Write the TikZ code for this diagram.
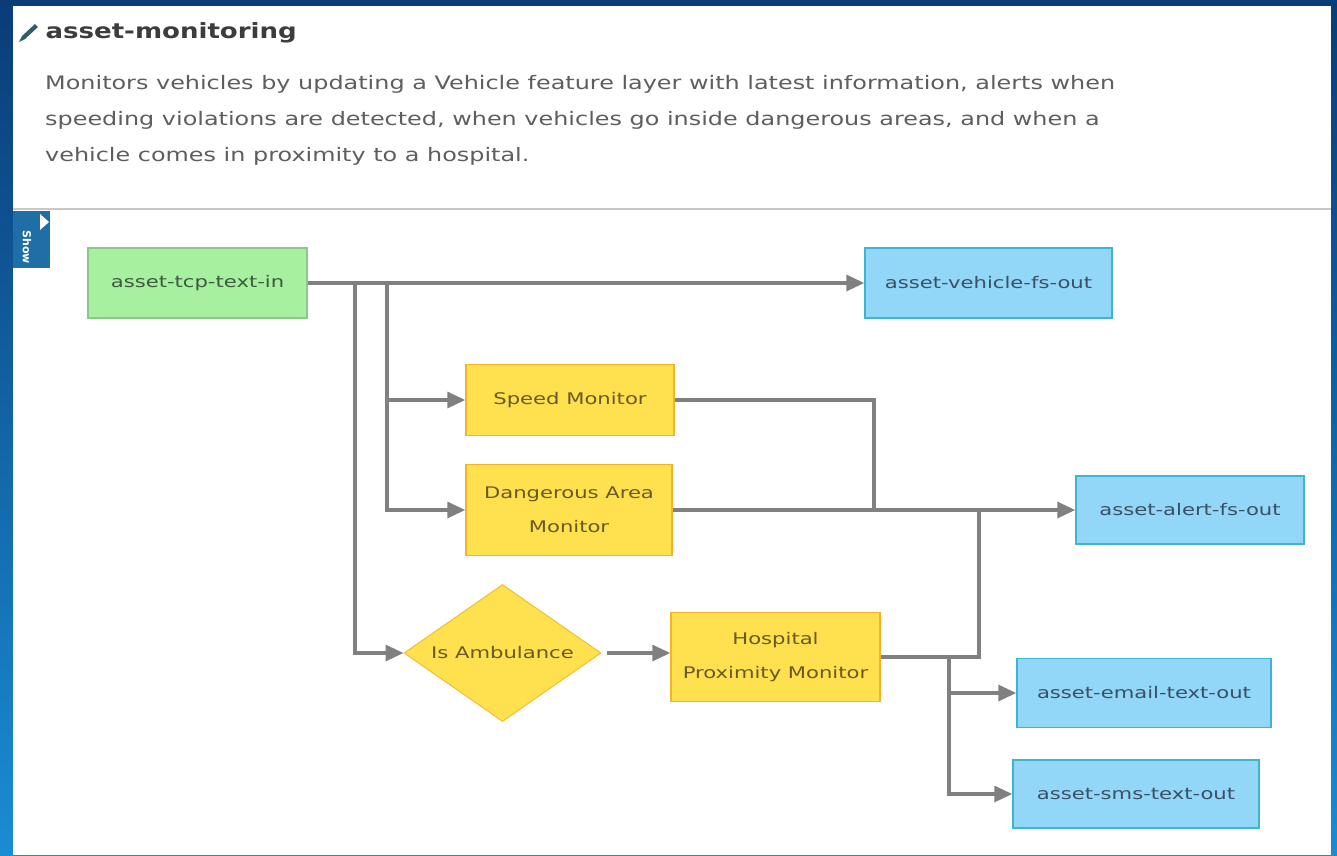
\documentclass[tikz,border=0pt]{standalone}
\usepackage{fontspec}
\setmainfont{DejaVu Sans}
\usetikzlibrary{arrows.meta,shapes.geometric,calc}

\definecolor{bgtop}{HTML}{0A3C78}
\definecolor{bgbot}{HTML}{1A8CD4}
\definecolor{tabblue}{HTML}{1F6EA6}
\definecolor{sepgray}{HTML}{C8C8C8}
\definecolor{titlegray}{HTML}{3C3C3C}
\definecolor{descgray}{HTML}{5E5E5E}
\definecolor{wiregray}{HTML}{808080}
\definecolor{srcfill}{HTML}{A6F0A0}
\definecolor{srcdraw}{HTML}{8CC88A}
\definecolor{srctext}{HTML}{3E5A3E}
\definecolor{outfill}{HTML}{92D6F8}
\definecolor{outdraw}{HTML}{3CB4D2}
\definecolor{outtext}{HTML}{3A5064}
\definecolor{procfill}{HTML}{FFE04E}
\definecolor{procdraw}{HTML}{F5B428}
\definecolor{proctext}{HTML}{6A5A22}
\definecolor{penteal}{HTML}{2E5E66}

% wide-set lettering used throughout the page
\newcommand\wideN[1]{\scalebox{1.32}[1]{#1}}
\newcommand\wideD[1]{\scalebox{1.285}[1]{#1}}
\newcommand\wideT[1]{\scalebox{1.24}[1]{#1}}

\tikzset{
  nodefont/.style={font=\fontsize{16}{19}\selectfont},
  source/.style={draw=srcdraw, fill=srcfill, line width=1.5pt, nodefont, text=srctext,
                 inner sep=0pt, align=center},
  output/.style={draw=outdraw, fill=outfill, line width=1.5pt, nodefont, text=outtext,
                 inner sep=0pt, align=center},
  process/.style={draw=procdraw, fill=procfill, line width=1.5pt, nodefont, text=proctext,
                  inner sep=0pt, align=center},
  filter/.style={diamond, draw=procdraw!80!procfill, fill=procfill, line width=1pt,
                 inner sep=0pt, minimum width=197pt, minimum height=137pt},
  wire/.style={draw=wiregray, line width=3.3pt},
  arrowwire/.style={wire, -{Triangle[length=18pt, width=16pt]}},
}

\begin{document}
\begin{tikzpicture}[x=1pt, y=-1pt]
\useasboundingbox (0,0) rectangle (1337,855);

% page frame and header
\shade[top color=bgtop, bottom color=bgbot] (0,0) rectangle (1337,855);
\fill[white] (13,6) rectangle (1331,855);
\draw[sepgray, line width=1.5pt] (13,209) -- (1331,209);

% pencil icon and title
\fill[penteal] (19,42) -- (22,36) -- (35,24) -- (38,27) -- (25,39) -- cycle;
\node[anchor=west, text=titlegray, font=\bfseries\fontsize{21}{25}\selectfont] (title)
  at (42,33) {\wideT{asset-monitoring}};

% description
\node[anchor=north west, text=descgray, align=left, inner sep=0pt,
      font=\fontsize{18.6}{36}\selectfont] (desc) at (45,75)
  {\wideD{Monitors vehicles by updating a Vehicle feature layer with latest information, alerts when}\\
   \wideD{speeding violations are detected, when vehicles go inside dangerous areas, and when a}\\
   \wideD{vehicle comes in proximity to a hospital.}};

% side tab
\fill[tabblue] (13,211) rectangle (50,268);
\fill[white] (40,214) -- (49,222) -- (40,230) -- cycle;
\node[rotate=-90, text=white, font=\bfseries\fontsize{11}{11}\selectfont] (showtab)
  at (27,247) {Show};

% nodes
\node[source, minimum width=219pt, minimum height=70pt] (tcp) at (197.5,283) {\wideN{asset-tcp-text-in}};
\node[output, minimum width=247pt, minimum height=70pt] (vehicle) at (988.5,283) {\wideN{asset-vehicle-fs-out}};
\node[process, minimum width=208pt, minimum height=71pt] (speed) at (570,400) {\wideN{Speed Monitor}};
\node[process, minimum width=206pt, minimum height=91pt] (danger) at (569,510)
  {\wideN{Dangerous Area}\\[15pt]\wideN{Monitor}};
\node[output, minimum width=228pt, minimum height=68pt] (alert) at (1190,510) {\wideN{asset-alert-fs-out}};
\node[filter, label={[name=ambtext, nodefont, text=proctext]center:\wideN{Is Ambulance}}] (amb)
  at (502.5,653) {};
\node[process, minimum width=209pt, minimum height=89pt] (hosp) at (775.5,657)
  {\wideN{Hospital}\\[15pt]\wideN{Proximity Monitor}};
\node[output, minimum width=254pt, minimum height=69pt] (email) at (1144,693) {\wideN{asset-email-text-out}};
\node[output, minimum width=246pt, minimum height=68pt] (sms) at (1136,794) {\wideN{asset-sms-text-out}};

% junction points on the wires
\coordinate (j1) at (355,283);
\coordinate (j2) at (387,283);
\coordinate (m1) at (874,510);
\coordinate (m2) at (979,510);
\coordinate (j3) at (949,657);

% connectors
\draw[arrowwire] (tcp.east) -- (vehicle.west);
\draw[arrowwire] (j1) |- (amb.west);
\draw[arrowwire] (j2) |- (danger.west);
\draw[arrowwire] (j2 |- speed.west) -- (speed.west);
\draw[wire] (speed.east) -| (m1);
\draw[arrowwire] (danger.east) -- (alert.west);
\draw[wire] (hosp.east) -| (m2);
\draw[arrowwire] ([xshift=5pt]amb.east) -- (amb.east -| hosp.west);
\draw[arrowwire] (j3) |- (email.west);
\draw[arrowwire] (j3) |- (sms.west);
\end{tikzpicture}
\end{document}
